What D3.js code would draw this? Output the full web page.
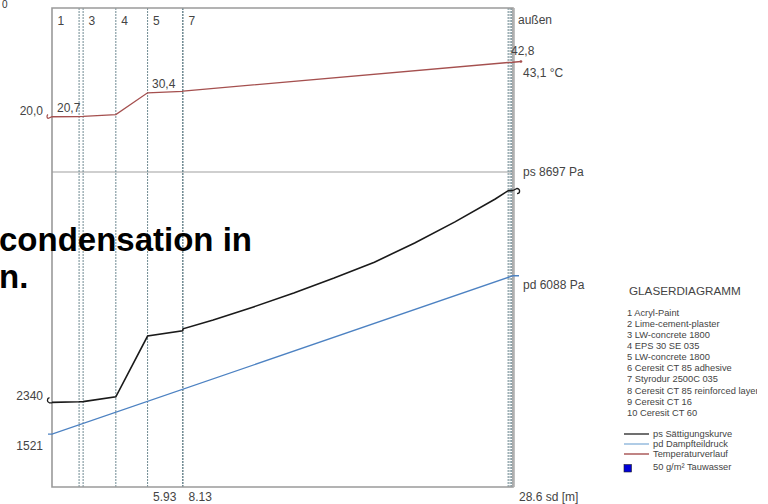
<!DOCTYPE html>
<html>
<head>
<meta charset="utf-8">
<script src="https://cdn.jsdelivr.net/npm/d3@7"></script>
<style>
  html, body { margin: 0; padding: 0; background: #fff; }
  svg { display: block; font-family: "Liberation Sans", Arial, sans-serif; }
</style>
</head>
<body>
<svg id="chart" width="768" height="504"></svg>
<script>
// Wall build-up, inside (left) to outside (right)
const layerNames = [
  "Acryl-Paint", "Lime-cement-plaster", "LW-concrete 1800", "EPS 30 SE 035",
  "LW-concrete 1800", "Ceresit CT 85 adhesive", "Styrodur 2500C 035",
  "Ceresit CT 85 reinforced layer", "Ceresit CT 16", "Ceresit CT 60"
];
// cumulative sd value at every layer boundary [m]
const sdBounds = [0, 1.68, 1.93, 3.96, 5.93, 8.10, 8.13, 28.30, 28.42, 28.52, 28.6];
// temperature at every layer boundary [°C]
const tempBounds = [20.7, 20.8, 20.85, 21.6, 30.4, 31.0, 31.1, 42.7, 42.75, 42.78, 42.8];
const tempInside = 20.0;
const tempOutside = 43.1;
// saturation vapour pressure along the wall
const psSd  = [0, 1.68, 1.93, 3.96, 5.93, 8.10, 8.13, 10, 12.5, 15, 17.5, 20, 22.5, 25, 27.5, 28.30, 28.42, 28.52, 28.6];
const psVal = [2440, 2455, 2460, 2600, 4350, 4500, 4560, 4810, 5190, 5590, 6020, 6480, 7030, 7640, 8300, 8540, 8542, 8544, 8545];
const psInside = 2340;
const psOutside = 8697;
// partial vapour pressure (inside / outside)
const pdInside = 1521;
const pdOutside = 6088;
// labelled sd positions on the bottom axis
const sdTickLabels = [5.93, 8.13];
const sdTotal = 28.6;
// temperature labels shown on the curve
const tempLabels = [tempInside, tempBounds[0], tempBounds[4], tempBounds[10], tempOutside];

const svg = d3.select("#chart");
const pL = 52, pR = 513, pT = 8, pB = 487, pSplit = 172;

const x = d3.scaleLinear().domain([0, sdTotal]).range([pL, pR]);
const yT = d3.scaleLinear().domain([20, 43.1]).range([118.5, 61.5]);
const yP = d3.scaleLinear().domain([0, 9078]).range([pB, pSplit]);

const fmtC = v => d3.format(".1f")(v).replace(".", ",");
const textCol = "#444";

// corner mark
svg.append("text").attr("x", 2).attr("y", 8).attr("font-size", 10).attr("fill", "#333").text("0");

// panel separator between temperature and pressure parts
svg.append("line").attr("x1", pL).attr("x2", pR).attr("y1", pSplit).attr("y2", pSplit)
  .attr("stroke", "#cfcfcf").attr("stroke-width", 2.2);

// layer boundaries
svg.append("g").selectAll("line").data(sdBounds.slice(1, -1)).join("line")
  .attr("x1", d => x(d)).attr("x2", d => x(d))
  .attr("y1", pT).attr("y2", pB)
  .attr("stroke", "#6f8a92").attr("stroke-width", 1)
  .attr("stroke-dasharray", "2,1");

// frame
svg.append("path")
  .attr("d", `M${pL},${pT}H${pR}V${pB}H${pL}Z`)
  .attr("fill", "none").attr("stroke", "#9a9a9a").attr("stroke-width", 1.6);
svg.append("line").attr("x1", pR + 0.8).attr("x2", pR + 0.8).attr("y1", pT).attr("y2", pB)
  .attr("stroke", "#b0b0b0").attr("stroke-width", 2);

// layer numbers (only where the layer is wide enough)
layerNames.forEach((n, i) => {
  const w = x(sdBounds[i + 1]) - x(sdBounds[i]);
  if (w > 20) {
    svg.append("text").attr("x", x(sdBounds[i]) + 5.5).attr("y", 25)
      .attr("font-size", 12).attr("fill", textCol).text(i + 1);
  }
});
svg.append("text").attr("x", 518).attr("y", 24).attr("font-size", 12).attr("fill", textCol).text("außen");

// temperature curve
const tLine = d3.line().x(d => d[0]).y(d => d[1]);
const tPts = [[pL - 4, yT(tempInside)]]
  .concat(sdBounds.map((s, i) => [x(s), yT(tempBounds[i])]))
  .concat([[pR + 8, yT(tempOutside)]]);
svg.append("path").attr("d", tLine(tPts)).attr("fill", "none")
  .attr("stroke", "#a5504f").attr("stroke-width", 1.3);
svg.append("circle").attr("cx", pR + 8).attr("cy", yT(tempOutside)).attr("r", 1.3).attr("fill", "#a5504f");
// small hook at the inside air end
svg.append("path")
  .attr("d", `M${pL - 4},${yT(tempInside)} a2.5,2.5 0 0 1 0,-4`)
  .attr("fill", "none").attr("stroke", "#a5504f").attr("stroke-width", 1.2);

// temperature labels
const tl = [
  { v: tempLabels[0], x: 43, y: 115, a: "end" },
  { v: tempLabels[1], x: 57, y: 112, a: "start" },
  { v: tempLabels[2], x: 152, y: 88, a: "start" },
  { v: tempLabels[3], x: 511, y: 55, a: "start" },
  { v: tempLabels[4], x: 523, y: 77, a: "start", u: " °C" }
];
tl.forEach(d => {
  svg.append("text").attr("x", d.x).attr("y", d.y).attr("text-anchor", d.a)
    .attr("font-size", 12).attr("fill", textCol).text(fmtC(d.v) + (d.u || ""));
});

// partial pressure line
const pdPts = [[pL - 4, yP(pdInside)], [x(0), yP(pdInside)], [x(sdTotal), yP(pdOutside)], [pR + 6, yP(pdOutside)]];
svg.append("path").attr("d", tLine(pdPts)).attr("fill", "none")
  .attr("stroke", "#4d82c2").attr("stroke-width", 1.3);

// saturation pressure curve
const psPts = psSd.map((s, i) => [x(s), yP(psVal[i])]);
svg.append("path").attr("d", tLine(psPts)).attr("fill", "none")
  .attr("stroke", "#1a1a1a").attr("stroke-width", 1.6);
// end hooks for the air-side saturation pressures
const yPsS = yP(psVal[0]);
svg.append("path")
  .attr("d", `M${pL},${yPsS + 0.5}H${pL - 2.5} A2.6,2.6 0 0 1 ${pL - 2.5},${yPsS - 4.6}`)
  .attr("fill", "none").attr("stroke", "#1a1a1a").attr("stroke-width", 1.3);
const yPsE = yP(psVal[psVal.length - 1]);
svg.append("path")
  .attr("d", `M${pR},${yPsE}L${pR + 4},${yPsE - 2} A2.6,2.6 0 0 1 ${pR + 4},${yPsE - 2 + 5.2}`)
  .attr("fill", "none").attr("stroke", "#1a1a1a").attr("stroke-width", 1.3);

// pressure labels
svg.append("text").attr("x", 43).attr("y", 400).attr("text-anchor", "end")
  .attr("font-size", 12).attr("fill", textCol).text(psInside);
svg.append("text").attr("x", 43).attr("y", 450).attr("text-anchor", "end")
  .attr("font-size", 12).attr("fill", textCol).text(pdInside);
svg.append("text").attr("x", 523).attr("y", 176)
  .attr("font-size", 12).attr("fill", textCol).text(`ps ${psOutside} Pa`);
svg.append("text").attr("x", 523).attr("y", 289)
  .attr("font-size", 12).attr("fill", textCol).text(`pd ${pdOutside} Pa`);

// bottom sd labels
sdTickLabels.forEach(s => {
  svg.append("text").attr("x", x(s) + 5.5).attr("y", 501)
    .attr("font-size", 12).attr("fill", textCol).text(d3.format(".2f")(s));
});
svg.append("text").attr("x", 519).attr("y", 501)
  .attr("font-size", 12).attr("fill", textCol).text(`${sdTotal} sd [m]`);

// result message
svg.append("text").attr("x", -1).attr("y", 251).attr("font-size", 33).attr("font-weight", "bold")
  .attr("fill", "#000").text("condensation in");
svg.append("text").attr("x", -1).attr("y", 288).attr("font-size", 33).attr("font-weight", "bold")
  .attr("fill", "#000").text("n.");

// legend
svg.append("defs").append("clipPath").attr("id", "legclip")
  .append("rect").attr("x", 600).attr("y", 270).attr("width", 157).attr("height", 220);
const leg = svg.append("g").attr("clip-path", "url(#legclip)");
leg.append("text").attr("x", 629).attr("y", 295).attr("font-size", 11.7).attr("fill", textCol).text("GLASERDIAGRAMM");
leg.selectAll("text.layer").data(layerNames).join("text").attr("class", "layer")
  .attr("x", 627).attr("y", (d, i) => 315.5 + i * 11.16)
  .attr("font-size", 9.3).attr("fill", textCol).text((d, i) => `${i + 1} ${d}`);
const legItems = [
  { label: "ps Sättigungskurve", color: "#333" },
  { label: "pd Dampfteildruck", color: "#8fb6dc" },
  { label: "Temperaturverlauf", color: "#a5504f" }
];
legItems.forEach((d, i) => {
  const yy = 434 + i * 10;
  leg.append("line").attr("x1", 624).attr("x2", 649).attr("y1", yy).attr("y2", yy)
    .attr("stroke", d.color).attr("stroke-width", 1.4);
  leg.append("text").attr("x", 653).attr("y", yy + 3).attr("font-size", 9.3).attr("fill", textCol).text(d.label);
});
leg.append("rect").attr("x", 624).attr("y", 464.5).attr("width", 7.5).attr("height", 7.5)
  .attr("fill", "#0000d8").attr("stroke", "#222").attr("stroke-width", 0.6);
leg.append("text").attr("x", 653).attr("y", 470).attr("font-size", 9.3).attr("fill", textCol).text("50 g/m² Tauwasser");
</script>
</body>
</html>
